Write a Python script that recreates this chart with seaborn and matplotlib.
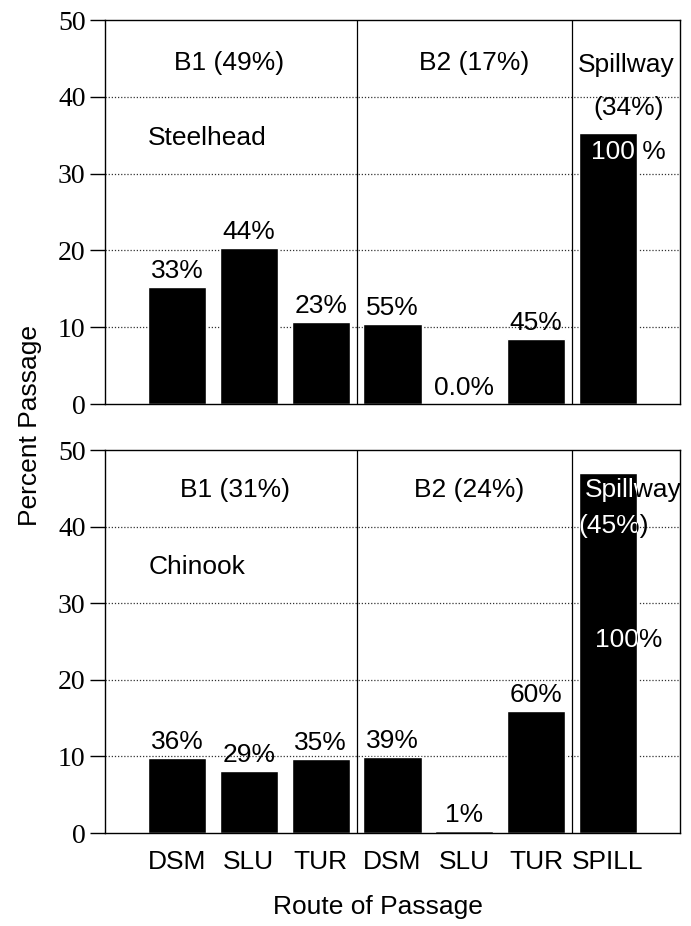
import matplotlib
matplotlib.use("Agg")
import matplotlib.pyplot as plt
import seaborn as sns
import pandas as pd

# ---- data ----
routes = ["DSM", "SLU", "TUR", "DSM", "SLU", "TUR", "SPILL"]
keys = ["B1-DSM", "B1-SLU", "B1-TUR", "B2-DSM", "B2-SLU", "B2-TUR", "SP-SPILL"]
steelhead = [15.2, 20.3, 10.7, 10.4, 0.0, 8.5, 35.3]
chinook = [9.8, 8.1, 9.7, 9.9, 0.2, 15.9, 47.0]
steelhead_labels = ["33%", "44%", "23%", "55%", "0.0%", "45%", "100 %"]
chinook_labels = ["36%", "29%", "35%", "39%", "1%", "60%", "100%"]
steelhead_groups = ["B1 (49%)", "B2 (17%)", "Spillway", "(34%)"]
chinook_groups = ["B1 (31%)", "B2 (24%)", "Spillway", "(45%)"]
species = ["Steelhead", "Chinook"]
yticks = [0, 10, 20, 30, 40, 50]

sns.set_style("white")
plt.rcParams["font.family"] = ["Liberation Sans", "DejaVu Sans"]
for k in ["text.color", "axes.labelcolor", "xtick.color", "ytick.color", "axes.edgecolor"]:
    plt.rcParams[k] = "black"

fig = plt.figure(figsize=(6.91, 9.26), dpi=100)
ax1 = fig.add_axes([0.152, 0.5637, 0.832, 0.4147])
ax2 = fig.add_axes([0.152, 0.1004, 0.832, 0.4136])

FS = 19

def draw(ax, values, labels, groups, name, group_pos, spill_inside, show_x):
    df = pd.DataFrame({"key": keys, "value": values})
    ax.set_axisbelow(True)
    for yv in yticks[1:-1]:
        ax.axhline(yv, color="#333333", lw=0.9, ls=(0, (1, 1.5)), zorder=0)
    sns.barplot(data=df, x="key", y="value", order=keys, color="black",
                saturation=1, width=0.81, ax=ax, zorder=2)
    ax.set_xlim(-1, 7)
    ax.set_ylim(0, 50)
    ax.set_yticks(yticks)
    ax.set_yticklabels([str(t) for t in yticks], family="Liberation Serif", fontsize=20)
    ax.tick_params(axis="y", direction="out", length=11, width=1, color="black", left=True, pad=3)
    ax.tick_params(axis="x", length=0, pad=12)
    if show_x:
        ax.set_xticks(range(len(routes)))
        ax.set_xticklabels(routes, fontsize=FS)
    else:
        ax.set_xticks([])
    ax.set_xlabel("")
    ax.set_ylabel("")
    for s in ax.spines.values():
        s.set_color("black")
        s.set_linewidth(1.0)
    ax.axvline(2.5, color="black", lw=0.9, zorder=3)
    ax.axvline(5.5, color="black", lw=0.9, zorder=3)

    patches = ax.patches
    n = len(values)
    for i, (v, lab) in enumerate(zip(values, labels)):
        if i == n - 1:
            continue
        ax.annotate(lab, (i, v), xytext=(0, 3), textcoords="offset points",
                    ha="center", va="bottom", fontsize=FS, zorder=4)
    spill_bar = patches[n - 1]

    def dual_text(x, y, s, **kw):
        ax.text(x, y, s, color="black", zorder=4, **kw)
        tw = ax.text(x, y, s, color="white", zorder=5, **kw)
        tw.set_clip_on(True)
        tw.set_clip_path(spill_bar)

    sx, sy = spill_inside
    dual_text(sx, sy, labels[-1], ha="center", va="center", fontsize=FS)

    for j, (gx, gy) in enumerate(group_pos):
        if j < 2:
            ax.text(gx, gy, groups[j], ha="center", va="center", fontsize=FS, zorder=4)
        else:
            dual_text(gx, gy, groups[j], ha="center", va="center", fontsize=FS)
    ax.text(-0.4, 34.7, name, ha="left", va="center", fontsize=FS, zorder=4)

draw(ax1, steelhead, steelhead_labels, steelhead_groups, species[0],
     [(0.72, 44.4), (4.14, 44.4), (6.25, 44.1), (6.29, 38.6)], (6.28, 32.8), False)
draw(ax2, chinook, chinook_labels, chinook_groups, species[1],
     [(0.81, 44.8), (4.07, 44.8), (6.35, 44.8), (6.08, 40.1)], (6.28, 25.2), True)

fig.text(0.043, 0.54, "Percent Passage", rotation=90, ha="center", va="center", fontsize=FS)
fig.text(0.547, 0.02, "Route of Passage", ha="center", va="center", fontsize=FS)

fig.savefig("out.png", dpi=100)
